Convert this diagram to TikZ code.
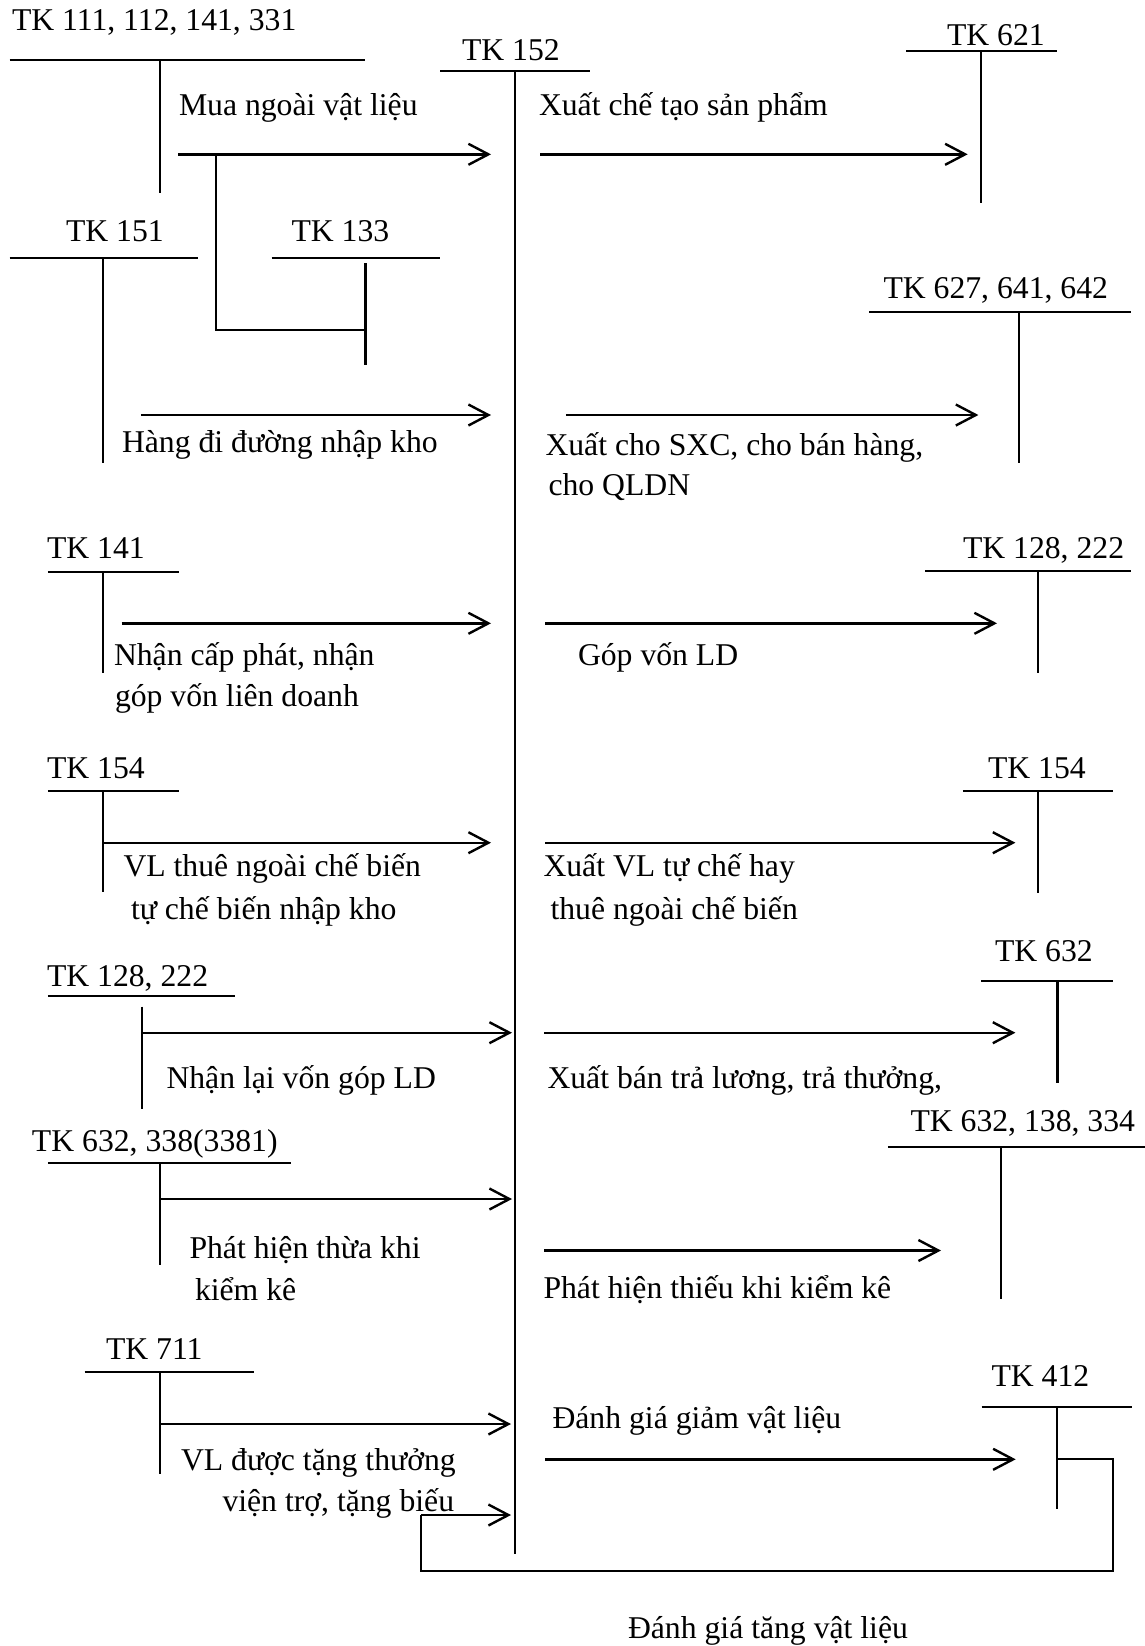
\documentclass[tikz,border=0pt]{standalone}
\usepackage{fontspec}
\setmainfont{Liberation Serif}
\usetikzlibrary{arrows.meta}
\newcommand{\tacc}[7]{%
  \coordinate (#1-l) at (#2,#4); \coordinate (#1-r) at (#3,#4);
  \coordinate (#1-t) at (#5,#6); \coordinate (#1-b) at (#5,#7);
  \draw[tline] (#1-l) -- (#1-r);
  \draw[tline] (#1-t) -- (#1-b);}
\newcommand{\flow}[4]{%
  \coordinate (#1-s) at (#2,#4); \coordinate (#1-e) at (#3,#4);
  \draw[flowarrow] (#1-s) -- (#1-e);}
\begin{document}
\begin{tikzpicture}[x=0.5pt,y=-0.5pt,
  tline/.style={line width=1.1pt},
  flowarrow/.style={line width=1.2pt,-{Straight Barb[length=10pt,width=10.5pt,line width=1.2pt]}},
  lbl/.style={anchor=base west,inner sep=0pt,outer sep=0pt,font=\fontsize{15.85}{20.85}\selectfont}]
\useasboundingbox (0,0) rectangle (1145,1646);

% ---- labels ----
\node[lbl] (t111) at (12,30) {TK 111, 112, 141, 331};
\node[lbl] (t152) at (462,60) {TK 152};
\node[lbl] (t621) at (947,45) {TK 621};
\node[lbl] (l1) at (179,115) {Mua ngoài vật liệu};
\node[lbl] (r1) at (539,115) {Xuất chế tạo sản phẩm};
\node[lbl] (t151) at (66,241.7) {TK 151};
\node[lbl] (t133) at (291.5,241.7) {TK 133};
\node[lbl] (t627) at (883.5,298.3) {TK 627, 641, 642};
\node[lbl] (l2) at (122,452.7) {Hàng đi đường nhập kho};
\node[lbl] (r2a) at (545.5,455) {Xuất cho SXC, cho bán hàng,};
\node[lbl] (r2b) at (548.5,495) {cho QLDN};
\node[lbl] (t141) at (47,558.3) {TK 141};
\node[lbl] (t128r) at (963,558.3) {TK 128, 222};
\node[lbl] (l3a) at (114,665) {Nhận cấp phát, nhận};
\node[lbl] (l3b) at (115,706.7) {góp vốn liên doanh};
\node[lbl] (r3) at (578,665) {Góp vốn LD};
\node[lbl] (t154l) at (47,778.3) {TK 154};
\node[lbl] (t154r) at (988,778.3) {TK 154};
\node[lbl] (l4a) at (123.5,876.7) {VL thuê ngoài chế biến};
\node[lbl] (l4b) at (131,919) {tự chế biến nhập kho};
\node[lbl] (r4a) at (543.5,876.7) {Xuất VL tự chế hay};
\node[lbl] (r4b) at (550.5,919) {thuê ngoài chế biến};
\node[lbl] (t632r) at (995,961.7) {TK 632};
\node[lbl] (t128l) at (47,986.7) {TK 128, 222};
\node[lbl] (l5) at (166.5,1088.3) {Nhận lại vốn góp LD};
\node[lbl] (r5) at (547.5,1088.3) {Xuất bán trả lương, trả thưởng,};
\node[lbl] (t632b) at (910.5,1131) {TK 632, 138, 334};
\node[lbl] (t632l) at (32,1151.7) {TK 632, 338(3381)};
\node[lbl] (l6a) at (189.5,1258.3) {Phát hiện thừa khi};
\node[lbl] (l6b) at (195,1300) {kiểm kê};
\node[lbl] (r6) at (543.5,1298.3) {Phát hiện thiếu khi kiểm kê};
\node[lbl] (t711) at (106,1359) {TK 711};
\node[lbl] (t412) at (991.5,1386) {TK 412};
\node[lbl] (r7) at (552.5,1428.3) {Đánh giá giảm vật liệu};
\node[lbl] (l7a) at (181,1470) {VL được tặng thưởng};
\node[lbl] (l7b) at (222.5,1511.7) {viện trợ, tặng biếu};
\node[lbl] (r8) at (628,1638.3) {Đánh giá tăng vật liệu};

% ---- T accounts ----
\tacc{a111}{9.6}{365.4}{60}{160}{60}{193.3}
\tacc{a152}{440}{589.7}{70.7}{514.7}{70.7}{1554}
\tacc{a621}{906.4}{1057.4}{51}{981.3}{51}{203.3}
\tacc{a151}{9.6}{197.8}{258.3}{103.3}{258.3}{463.3}
\tacc{a133}{271.7}{440}{258.3}{365.4}{263.3}{365}
\tacc{a627}{869}{1131.4}{311.7}{1019}{311.7}{463.3}
\tacc{a141}{47.8}{179}{571.7}{103.3}{571.7}{673.3}
\tacc{a128r}{925}{1131.4}{571}{1037.6}{571}{673.3}
\tacc{a154l}{47.8}{179}{791}{103.3}{791}{891.7}
\tacc{a154r}{962.8}{1112.9}{791}{1037.6}{791}{893.3}
\tacc{a632r}{981.3}{1112.9}{980.7}{1057.4}{980.7}{1082.7}
\tacc{a128l}{47.8}{235.3}{995.7}{141.6}{1006.7}{1109.3}
\tacc{a632b}{887.9}{1145}{1146.7}{1000.6}{1146.7}{1299.3}
\tacc{a632l}{47.8}{290.8}{1162.7}{160}{1162.7}{1265}
\tacc{a711}{84.6}{254.3}{1372.3}{159.6}{1372.3}{1474}
\tacc{a412}{981.7}{1131.5}{1407.3}{1057.2}{1407.3}{1509.3}

% ---- flows ----
\flow{f1}{178}{491}{154.3}
\flow{f2}{540}{967.7}{154.3}
\coordinate (br1) at (216.2,154.3);
\coordinate (br2) at (216.2,330);
\coordinate (br3) at (365.4,330);
\draw[tline] (br1) -- (br2) -- (br3);
\flow{f3}{140.8}{491}{415}
\flow{f4}{565.8}{978.4}{415}
\flow{f5}{121.7}{491}{623.3}
\flow{f6}{545.2}{997}{623.3}
\flow{f7}{103.3}{491}{842.7}
\flow{f8}{545.2}{1015.4}{842.7}
\flow{f9}{141.6}{512}{1032.7}
\flow{f10}{544.4}{1015.4}{1032.7}
\flow{f11}{160}{512}{1199}
\flow{f12}{544.4}{941}{1250.5}
\flow{f13}{159.6}{511}{1424}
\flow{f14}{545.2}{1015.7}{1459.3}
\coordinate (lp0) at (1057.2,1459);
\coordinate (lp1) at (1112.7,1459);
\coordinate (lp2) at (1112.7,1570.7);
\coordinate (lp3) at (421.3,1570.7);
\coordinate (lp4) at (421.3,1515);
\coordinate (lp5) at (511,1515);
\draw[tline] (lp0) -- (lp1) -- (lp2) -- (lp3) -- (lp4);
\draw[flowarrow] (lp4) -- (lp5);
\end{tikzpicture}
\end{document}
